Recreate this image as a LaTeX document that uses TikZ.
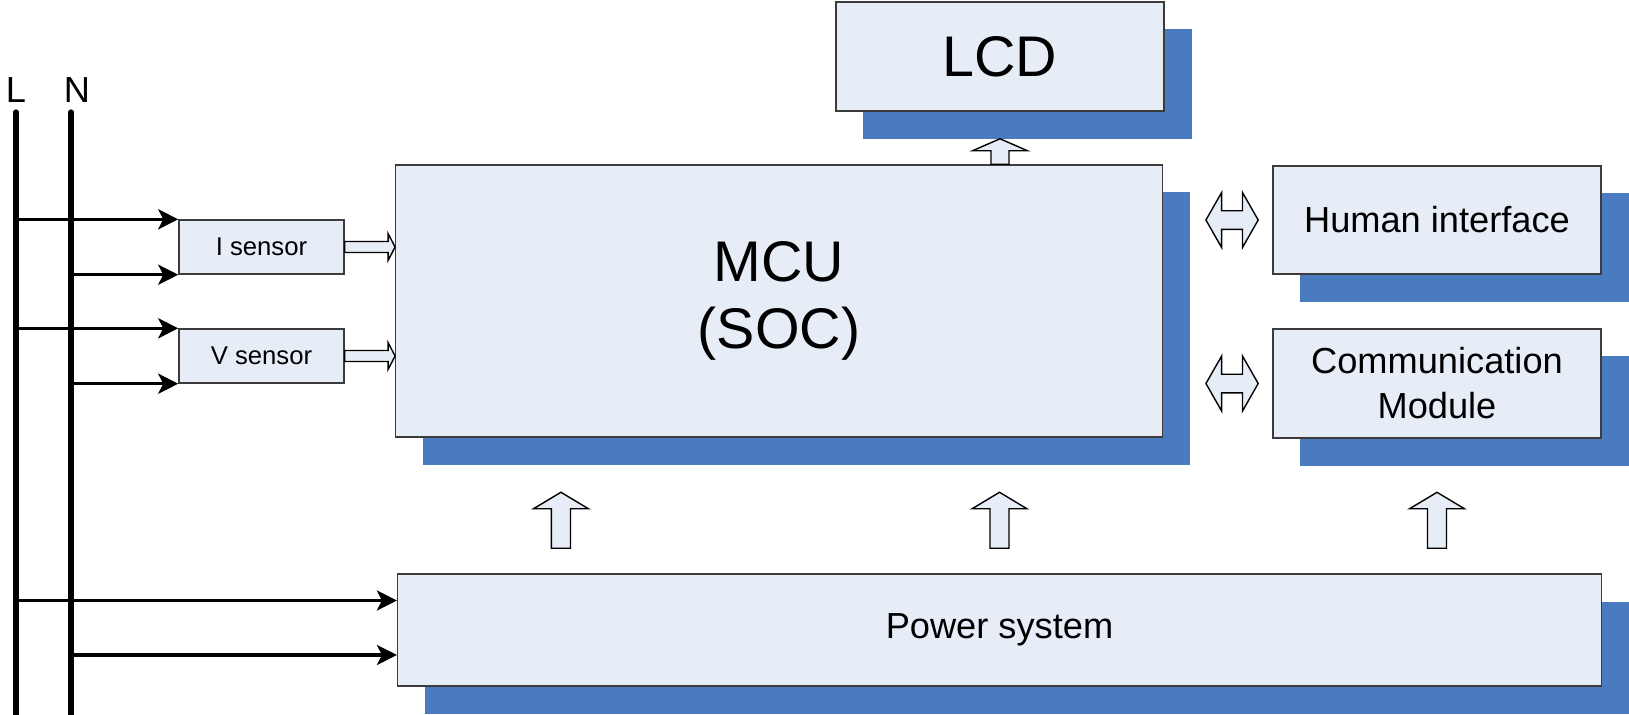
\documentclass[tikz,border=0pt]{standalone}
\usepackage{fontspec}
\setmainfont{Liberation Sans}
\usetikzlibrary{arrows.meta,calc,shadows}
\definecolor{MtrFill}{HTML}{E7EDF7}
\definecolor{MtrShadow}{HTML}{4A7BC1}
\definecolor{MtrEdge}{HTML}{3C3C3C}
\tikzset{
  mtrbox/.style={
    draw=MtrEdge,
    line width=0.4pt,
    fill=MtrFill,
    align=center,
    inner sep=0pt
  },
  mtrshadowbox/.style={
    mtrbox,
    drop shadow={shadow xshift=0.275cm,shadow yshift=-0.275cm,opacity=1,fill=MtrShadow}
  },
  mtrwire/.style={-{Stealth[length=0.2cm,width=0.2cm,inset=0.05cm]},line width=0.95pt},
  mtrbus/.style={line width=1.5pt,line cap=round},
  mtrhollow/.style={draw=black,line width=0.4pt,fill=MtrFill,line join=miter}
}
% block arrow: base, tip, half shaft, half head, head length
\newcommand{\blockarrow}[5]{%
  \coordinate (bah) at ($(#2)!#5!(#1)$);
  \draw[mtrhollow] ($(#1)!#3!90:(#2)$) -- ($(bah)!#3!90:(#2)$) -- ($(bah)!#4!90:(#2)$)
    -- (#2) -- ($(bah)!#4!-90:(#2)$) -- ($(bah)!#3!-90:(#2)$) -- ($(#1)!#3!-90:(#2)$) -- cycle;}
% two-headed block arrow: tip, tip, half shaft, half head, head length
\newcommand{\dblarrow}[5]{%
  \coordinate (dah) at ($(#1)!#5!(#2)$);
  \coordinate (dbh) at ($(#2)!#5!(#1)$);
  \draw[mtrhollow] (#1) -- ($(dah)!#4!90:(#2)$) -- ($(dah)!#3!90:(#2)$) -- ($(dbh)!#3!90:(#2)$)
    -- ($(dbh)!#4!90:(#2)$) -- (#2) -- ($(dbh)!#4!-90:(#2)$) -- ($(dbh)!#3!-90:(#2)$)
    -- ($(dah)!#3!-90:(#2)$) -- ($(dah)!#4!-90:(#2)$) -- cycle;}

\begin{document}
\begin{tikzpicture}[
  x=0.01cm,y=-0.01cm,
  big/.style={font=\fontsize{16.3}{19}\selectfont},
  mid/.style={font=\fontsize{10.3}{12.8}\selectfont},
  small/.style={font=\fontsize{7.3}{9}\selectfont}
]
  \useasboundingbox (0,0) rectangle (1629,714);

  \node[mtrshadowbox,big,minimum width=3.28cm,minimum height=1.09cm] (lcd) at (1000,56.5) {LCD};
  \node[mtrshadowbox,big,minimum width=7.66cm,minimum height=2.72cm] (mcu) at (779,301) {MCU\\(SOC)};
  \node[mtrshadowbox,mid,minimum width=3.28cm,minimum height=1.08cm] (human) at (1437,220) {Human interface};
  \node[mtrshadowbox,mid,minimum width=3.28cm,minimum height=1.09cm] (comm) at (1437,383.5) {Communication\\Module};
  \node[mtrshadowbox,mid,minimum width=12.03cm,minimum height=1.12cm] (power) at (999.5,630) {Power system};
  \node[mtrbox,small,minimum width=1.65cm,minimum height=0.54cm] (isens) at (261.5,247) {I sensor};
  \node[mtrbox,small,minimum width=1.65cm,minimum height=0.54cm] (vsens) at (261.5,356) {V sensor};

  % mains lines
  \node[mid,anchor=base] (Llab) at (16,102.7) {L};
  \node[mid,anchor=base] (Nlab) at (77,102.7) {N};
  \coordinate (Ltop) at (16,112);
  \coordinate (Lbot) at (16,720);
  \coordinate (Ntop) at (71,112);
  \coordinate (Nbot) at (71,720);
  \draw[mtrbus] (Ltop) -- (Lbot);
  \draw[mtrbus] (Ntop) -- (Nbot);

  \draw[mtrwire] (Ltop |- isens.north west) -- (isens.north west);
  \draw[mtrwire] (Ntop |- isens.south west) -- (isens.south west);
  \draw[mtrwire] (Ltop |- vsens.north west) -- (vsens.north west);
  \draw[mtrwire] (Ntop |- vsens.south west) -- (vsens.south west);
  \coordinate (pwL) at ($(power.north west)!0.24!(power.south west)$);
  \coordinate (pwN) at ($(power.north west)!0.72!(power.south west)$);
  \draw[mtrwire] (Ltop |- pwL) -- (pwL);
  \draw[mtrwire] (Ntop |- pwN) -- (pwN);

  % block arrows
  \blockarrow{isens.east}{isens.east -| mcu.west}{0.055cm}{0.135cm}{0.07cm}
  \blockarrow{vsens.east}{vsens.east -| mcu.west}{0.055cm}{0.135cm}{0.07cm}
  \coordinate (lcdtip) at ([yshift=-0.27cm]lcd.south);
  \blockarrow{lcd.south |- mcu.north}{lcdtip}{0.09cm}{0.275cm}{0.12cm}

  \coordinate (hiA) at ($(mcu.east |- human.west)+(43,0)$);
  \coordinate (hiB) at ($(human.west)+(-14,0)$);
  \coordinate (cmA) at ($(mcu.east |- comm.west)+(43,0)$);
  \coordinate (cmB) at ($(comm.west)+(-14,0)$);
  \dblarrow{hiA}{hiB}{0.093cm}{0.275cm}{0.157cm}
  \dblarrow{cmA}{cmB}{0.093cm}{0.275cm}{0.157cm}

  \coordinate (upA1) at ($(power.north west)+(164,-25)$);
  \coordinate (upB1) at ($(upA1)+(0,-56)$);
  \coordinate (upA2) at ($(power.north)+(0,-25)$);
  \coordinate (upB2) at ($(upA2)+(0,-56)$);
  \coordinate (upA3) at ($(comm.south |- power.north)+(0,-25)$);
  \coordinate (upB3) at ($(upA3)+(0,-56)$);
  \blockarrow{upA1}{upB1}{0.095cm}{0.275cm}{0.165cm}
  \blockarrow{upA2}{upB2}{0.095cm}{0.275cm}{0.165cm}
  \blockarrow{upA3}{upB3}{0.095cm}{0.275cm}{0.165cm}
\end{tikzpicture}
\end{document}
